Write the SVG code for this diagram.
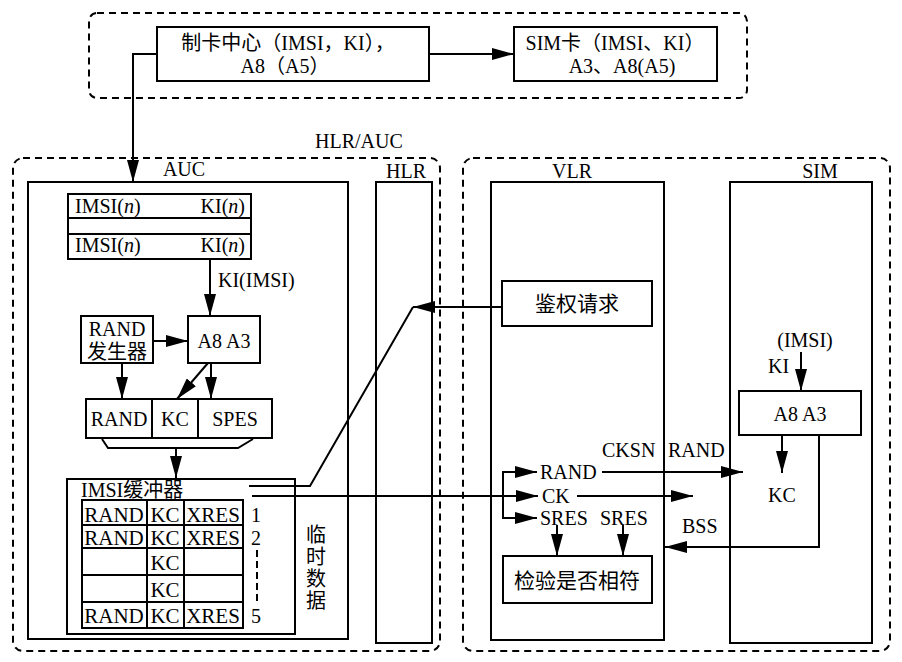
<svg xmlns="http://www.w3.org/2000/svg" width="902" height="662" viewBox="0 0 902 662">
<defs>
<style>
.box{fill:none;stroke:#000;stroke-width:2}
.dash{fill:none;stroke:#000;stroke-width:2;stroke-dasharray:7 5}
.ln{fill:none;stroke:#000;stroke-width:2}
.arr{fill:none;stroke:#000;stroke-width:2;marker-end:url(#ah)}
text{font-family:"Liberation Serif","DejaVu Serif","Noto Sans CJK SC",serif;font-size:20px;fill:#000}
.m{text-anchor:middle}
.big{font-size:21px}
.i{font-style:italic}
</style>
<marker id="ah" markerUnits="userSpaceOnUse" markerWidth="22" markerHeight="12" viewBox="0 0 22 12" refX="22" refY="6" orient="auto"><path d="M0,0 L22,6 L0,12 z" fill="#000"/></marker>
</defs>
<rect width="902" height="662" fill="#fff"/>

<g id="top-group">
<rect class="dash" x="89" y="13" width="658" height="85" rx="8"/>
</g>
<g id="card-center">
<rect class="box" x="157" y="27" width="272" height="54"/>
<text class="m" x="288" y="50">制卡中心（IMSI，KI），</text>
<text class="m" x="285" y="73">A8（A5）</text>
</g>
<g id="sim-card">
<rect class="box" x="514" y="27" width="203" height="54"/>
<text class="m" x="615" y="50">SIM卡（IMSI、KI）</text>
<text class="m" x="622" y="73">A3、A8(A5)</text>
</g>

<g id="hlr-auc-group">
<rect class="dash" x="13" y="158" width="427" height="493" rx="10"/>
<text x="315" y="148">HLR/AUC</text>
</g>
<g id="vlr-sim-group">
<rect class="dash" x="463" y="158" width="427" height="493" rx="10"/>
</g>

<g id="auc">
<rect class="box" x="28" y="182" width="320" height="457"/>
<text class="m" x="184" y="176">AUC</text>
</g>
<g id="hlr">
<rect class="box" x="376" y="182" width="56" height="461"/>
<text x="386" y="178">HLR</text>
</g>

<g id="imsi-table">
<rect class="box" x="68" y="194" width="183" height="65"/>
<line class="ln" x1="68" y1="218" x2="251" y2="218"/>
<line class="ln" x1="68" y1="234" x2="251" y2="234"/>
<text x="75" y="213">IMSI(<tspan class="i">n</tspan>)</text>
<text x="245" y="213" text-anchor="end">KI(<tspan class="i">n</tspan>)</text>
<text x="75" y="252">IMSI(<tspan class="i">n</tspan>)</text>
<text x="245" y="252" text-anchor="end">KI(<tspan class="i">n</tspan>)</text>
</g>

<g id="rand-gen">
<rect class="box" x="81" y="316" width="72" height="47"/>
<text class="m" x="117" y="336">RAND</text>
<text class="m" x="117" y="359">发生器</text>
</g>
<g id="auc-a8a3">
<rect class="box" x="188" y="316" width="72" height="47"/>
<text class="m" x="224" y="348">A8 A3</text>
</g>
<g id="triplet">
<rect class="box" x="86" y="399" width="186" height="39"/>
<line class="ln" x1="152" y1="399" x2="152" y2="438"/>
<line class="ln" x1="198" y1="399" x2="198" y2="438"/>
<text class="m" x="119" y="426">RAND</text>
<text class="m" x="175" y="426">KC</text>
<text class="m" x="235" y="426">SPES</text>
</g>

<g id="imsi-buffer">
<rect class="box" x="67" y="479" width="228" height="155"/>
<text x="81" y="497">IMSI缓冲器</text>
<rect class="box" x="82" y="500" width="161" height="128"/>
<line class="ln" x1="82" y1="525" x2="243" y2="525"/>
<line class="ln" x1="82" y1="548" x2="243" y2="548"/>
<line class="ln" x1="82" y1="575" x2="243" y2="575"/>
<line class="ln" x1="82" y1="602" x2="243" y2="602"/>
<line class="ln" x1="147" y1="500" x2="147" y2="628"/>
<line class="ln" x1="184" y1="500" x2="184" y2="628"/>
<text class="m big" x="114" y="522">RAND</text>
<text class="m big" x="165" y="522">KC</text>
<text class="m big" x="213" y="522">XRES</text>
<text class="m big" x="114" y="545">RAND</text>
<text class="m big" x="165" y="545">KC</text>
<text class="m big" x="213" y="545">XRES</text>
<text class="m big" x="165" y="570">KC</text>
<text class="m big" x="165" y="597">KC</text>
<text class="m big" x="114" y="623">RAND</text>
<text class="m big" x="165" y="623">KC</text>
<text class="m big" x="213" y="623">XRES</text>
<text x="251" y="522">1</text>
<text x="251" y="545">2</text>
<text x="251" y="623">5</text>
<line x1="257" y1="550" x2="257" y2="602" stroke="#000" stroke-width="2" stroke-dasharray="7 4"/>
<text class="m" x="316" y="542">临</text>
<text class="m" x="316" y="564">时</text>
<text class="m" x="316" y="586">数</text>
<text class="m" x="316" y="608">据</text>
</g>

<g id="vlr">
<rect class="box" x="491" y="182" width="173" height="458"/>
<text class="m" x="572" y="178">VLR</text>
</g>
<g id="auth-request">
<rect class="box" x="502" y="281" width="150" height="45"/>
<text class="m big" x="577" y="311">鉴权请求</text>
</g>
<g id="check">
<rect class="box" x="503" y="556" width="149" height="47"/>
<text class="m big" x="577" y="588">检验是否相符</text>
</g>
<g id="vlr-labels">
<text x="540" y="479">RAND</text>
<text x="542" y="503">CK</text>
<text x="540" y="525">SRES</text>
<text x="600" y="525">SRES</text>
<text x="602" y="457">CKSN</text>
<text x="668" y="457">RAND</text>
<text x="682" y="533">BSS</text>
</g>

<g id="sim">
<rect class="box" x="730" y="182" width="142" height="461"/>
<text class="m" x="820" y="178">SIM</text>
<text class="m" x="805" y="347">(IMSI)</text>
<text x="768" y="373">KI</text>
<text class="m" x="782" y="502">KC</text>
</g>
<g id="sim-a8a3">
<rect class="box" x="739" y="391" width="122" height="44"/>
<text class="m" x="800" y="421">A8  A3</text>
</g>

<g id="connectors">
<line class="arr" x1="429" y1="54" x2="514" y2="54"/>
<polyline class="arr" points="157,54 133,54 133,182"/>
<line class="arr" x1="210" y1="259" x2="210" y2="316"/>
<text x="218" y="287">KI(IMSI)</text>
<line class="arr" x1="153" y1="341" x2="188" y2="341"/>
<line class="arr" x1="122" y1="363" x2="122" y2="399"/>
<line class="arr" x1="208" y1="363" x2="177" y2="399"/>
<line class="arr" x1="211" y1="363" x2="211" y2="399"/>
<polyline class="ln" points="102,439 108,448 238,448 253,439"/>
<line class="arr" x1="176" y1="448" x2="176" y2="478"/>
<line class="arr" x1="502" y1="307" x2="413" y2="307"/>
<polyline class="ln" points="413,307 310,486 249,486"/>
<line class="arr" x1="252" y1="496" x2="538" y2="496"/>
<line class="ln" x1="503" y1="471" x2="503" y2="519"/>
<line class="arr" x1="502" y1="472" x2="537" y2="472"/>
<line class="arr" x1="502" y1="518" x2="537" y2="518"/>
<line class="arr" x1="602" y1="472" x2="743" y2="472"/>
<line class="arr" x1="577" y1="496" x2="693" y2="496"/>
<line class="arr" x1="557" y1="525" x2="557" y2="556"/>
<line class="arr" x1="623" y1="525" x2="623" y2="556"/>
<line class="arr" x1="801" y1="352" x2="801" y2="391"/>
<line class="arr" x1="782" y1="435" x2="782" y2="473"/>
<polyline class="arr" points="819,435 819,547 665,547"/>
</g>
</svg>
